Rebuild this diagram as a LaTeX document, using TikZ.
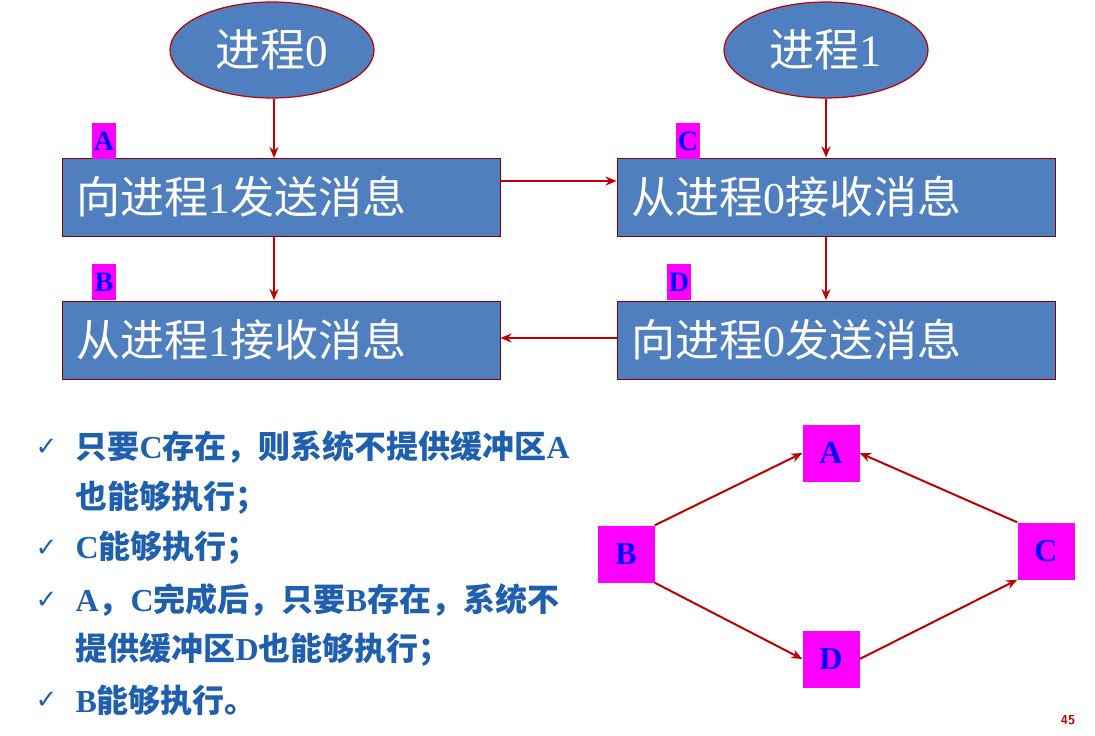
\documentclass[tikz,border=0pt]{standalone}
\usepackage{fontspec}
\setmainfont{Liberation Serif}
\newfontfamily\cjk{Noto Sans CJK SC}
\newfontfamily\sym{DejaVu Sans}
\usetikzlibrary{shapes.geometric,arrows.meta}
\definecolor{dr}{HTML}{C00000}
\definecolor{bx}{HTML}{4F7FBE}
\definecolor{tb}{HTML}{1F5FAF}
\definecolor{mg}{HTML}{FF00FF}
\begin{document}
\begin{tikzpicture}[x=1pt,y=-1pt,
 ell/.style={ellipse,draw=dr,line width=1.2pt,fill=bx,minimum width=204pt,minimum height=96pt,text=white,font=\fontsize{45}{45}\selectfont},
 bigbox/.style={draw=dr!70!black,line width=1pt,fill=bx,minimum width=438pt,minimum height=78pt,text=white,font=\fontsize{44}{44}\selectfont,text width=410pt,align=left},
 tag/.style={fill=mg,text=blue,inner sep=0pt,minimum width=24pt,minimum height=36pt,font=\bfseries\fontsize{28}{28}\selectfont},
 sq/.style={fill=mg,text=blue,inner sep=0pt,minimum size=57pt,font=\bfseries\fontsize{32}{32}\selectfont},
 arr/.style={-{Stealth[length=11pt,width=9pt]},dr,line width=2pt},
 bl/.style={anchor=west,text=tb,font=\bfseries\fontsize{32}{32}\selectfont},
 ck/.style={anchor=west,text=tb,font=\sym\bfseries\fontsize{26}{26}\selectfont}]
\useasboundingbox (0,0) rectangle (1095,736);
\fill[white] (0,0) rectangle (1095,736);
\node[ell] (p0) at (272,50) {{\cjk 进程}0};
\node[ell] (p1) at (826,50) {{\cjk 进程}1};
\node[bigbox] (A) at (281,197) {{\cjk 向进程}1{\cjk 发送消息}};
\node[bigbox] (C) at (836,197) {{\cjk 从进程}0{\cjk 接收消息}};
\node[bigbox] (B) at (281,340) {{\cjk 从进程}1{\cjk 接收消息}};
\node[bigbox] (D) at (836,340) {{\cjk 向进程}0{\cjk 发送消息}};
\node[tag] (tA) at (104,141) {A};
\node[tag] (tC) at (688,141) {C};
\node[tag] (tB) at (104,282) {B};
\node[tag] (tD) at (679,282) {D};
\draw[arr] (p0.south -| 274,0) -- (274,158);
\draw[arr] (p1.south) -- (C.north -| p1.south);
\draw[arr] (A.east |- 0,181) -- (C.west |- 0,181);
\draw[arr] (274,236) -- (274,300);
\draw[arr] (826,236) -- (826,300);
\draw[arr] (D.west |- 0,338) -- (B.east |- 0,338);
\node[ck] (c1) at (32,447) {✓};
\node[bl] (t1) at (72,447) {{\cjk 只要}C{\cjk 存在，则系统不提供缓冲区}A};
\node[bl] (t1b) at (72,498) {\cjk 也能够执行；};
\node[ck] (c2) at (32,548) {✓};
\node[bl] (t2) at (72,548) {C{\cjk 能够执行；}};
\node[ck] (c3) at (32,600) {✓};
\node[bl] (t3) at (72,600) {A{\cjk ，}C{\cjk 完成后，只要}B{\cjk 存在，系统不}};
\node[bl] (t3b) at (72,650) {{\cjk 提供缓冲区}D{\cjk 也能够执行；}};
\node[ck] (c4) at (32,700) {✓};
\node[bl] (t4) at (72,700) {B{\cjk 能够执行。}};
\node[sq] (gA) at (831,453) {A};
\node[sq] (gB) at (626,554) {B};
\node[sq] (gC) at (1046,551) {C};
\node[sq] (gD) at (831,659) {D};
\draw[arr] (gB.north east) -- (gA.west);
\draw[arr] (gC.north west) -- (gA.east);
\draw[arr] (gB.south east) -- (gD.west);
\draw[arr] (gD.east) -- (gC.south west);
\node[text=dr,font=\bfseries\sffamily\fontsize{13}{13}\selectfont] (pg) at (1068,720) {45};
\end{tikzpicture}
\end{document}
